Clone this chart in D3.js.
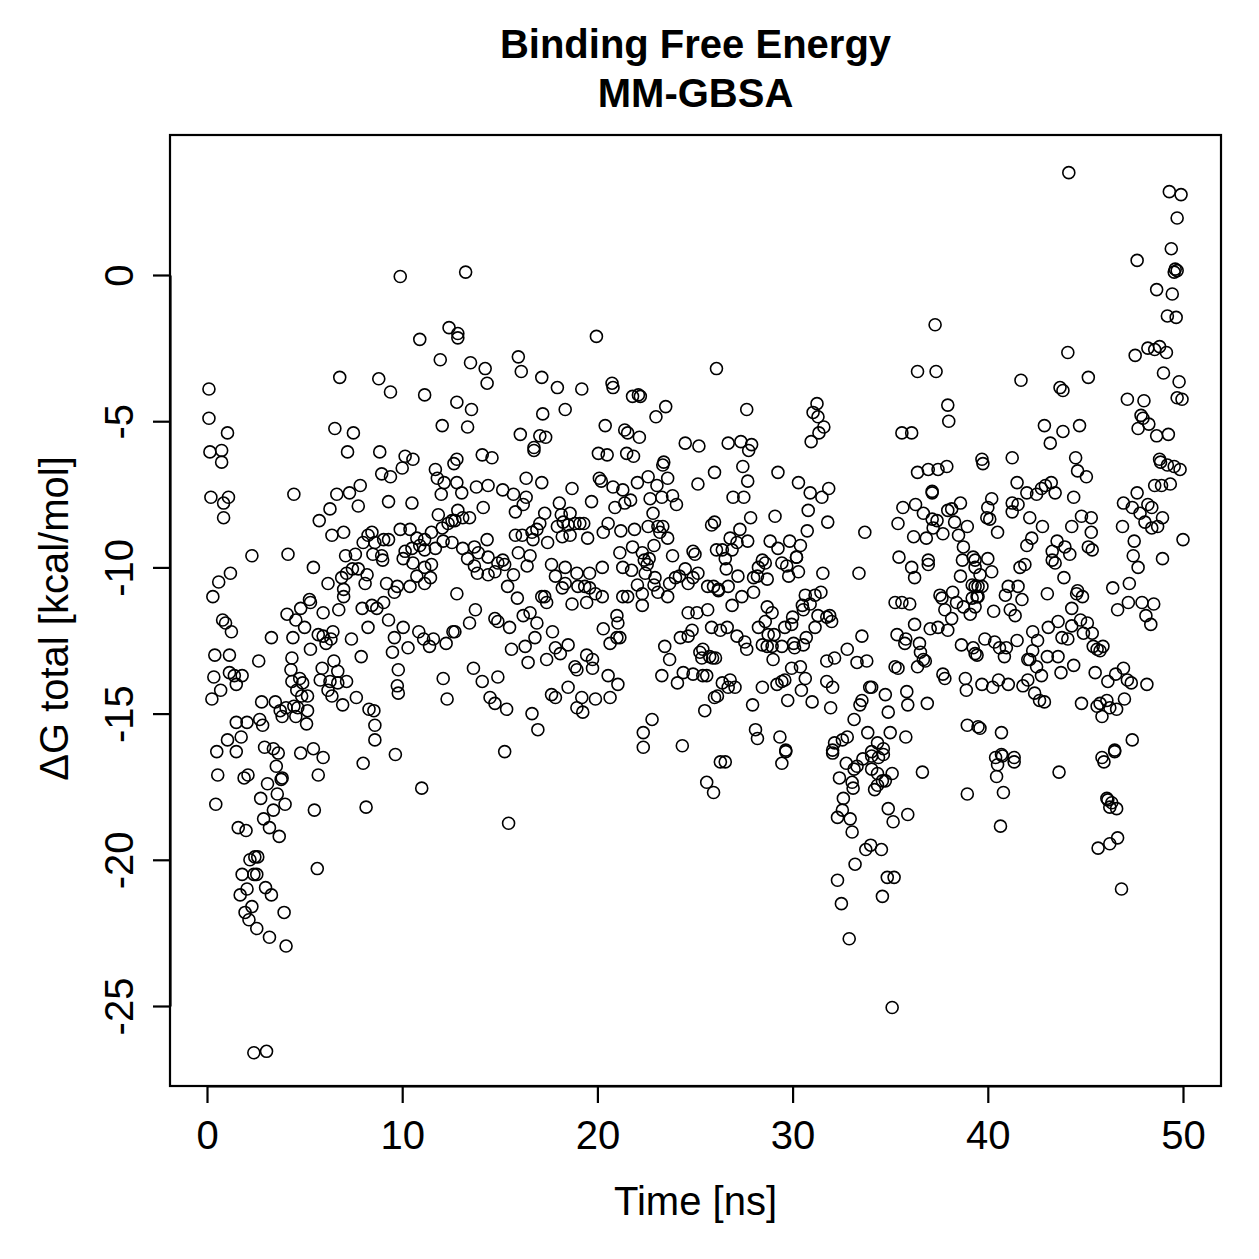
<!DOCTYPE html>
<meta charset="utf-8">
<style>
    body { margin: 0; background: #fff; }
    text { font-family: "Liberation Sans", Arial, Helvetica, sans-serif; fill: #000; }
</style>
<svg width="1259" height="1259"></svg>
<script src="https://d3js.org/d3.v7.min.js"></script>
<script>
    // [time ns, dG kcal/mol], in four time windows
    var seg0to13 = [
        [0.1,-3.9],[0.1,-4.9],[0.15,-6.05],[0.2,-7.6],[0.3,-11.0],[0.4,-13.0],[0.35,-13.75],[0.25,-14.5],[0.5,-16.3],[0.45,-18.1],
        [0.55,-17.1],[0.6,-10.5],[0.75,-6.0],[0.75,-6.4],[0.85,-8.3],[0.8,-11.8],[0.95,-11.9],[0.7,-14.2],[1.1,-7.6],[1.05,-5.4],
        [1.2,-10.2],[1.05,-15.9],[1.25,-12.2],[1.15,-13.0],[1.15,-13.6],[1.4,-13.7],[1.5,-14.0],[1.5,-15.3],[1.5,-16.3],[1.6,-18.9],
        [1.7,-21.2],[1.8,-20.5],[2.0,-19.0],[1.9,-17.2],[1.75,-15.8],[1.8,-13.7],[1.95,-21.8],[0.85,-7.8],[2.1,-17.1],
        [2.75,-17.9],[3.1,-17.4],[3.55,-16.8],[3.6,-17.75],[3.85,-17.2],[3.8,-17.25],[3.4,-18.3],[4.0,-18.1],[2.9,-18.6],[3.2,-18.9],
        [3.7,-19.2],[2.45,-19.9],[2.6,-19.9],[2.2,-20.0],[2.4,-20.5],[2.55,-20.5],[2.05,-21.0],[3.0,-20.95],[3.3,-21.2],[2.3,-21.6],
        [2.15,-22.05],[2.55,-22.35],[3.2,-22.65],[3.95,-21.8],[4.05,-22.95],[5.65,-20.3],[5.5,-18.3],[5.7,-17.1],[8.15,-18.2],[8.0,-16.7],
        [11.0,-17.55],[9.65,-16.4],[2.4,-26.6],[3.05,-26.55],
        [9.9,-0.05],[12.4,-1.8],[12.85,-2.0],[12.85,-2.15],[10.9,-2.2],[11.95,-2.9],[6.8,-3.5],[8.8,-3.55],[9.4,-4.0],[11.15,-4.1],
        [12.8,-4.35],[12.05,-5.15],[6.55,-5.25],[7.5,-5.4],[7.2,-6.05],[8.85,-6.05],
        [2.05,-15.3],[2.7,-15.2],[2.85,-15.4],[2.95,-16.15],[3.4,-16.2],[3.65,-16.35],[3.85,-15.1],[4.55,-15.1],[5.1,-15.35],[4.8,-16.35],
        [5.45,-16.2],[5.95,-16.5],[4.45,-7.5],[2.3,-9.6],[4.15,-9.55],[5.45,-10.0],[3.3,-12.4],[4.4,-12.4],[2.65,-13.2],
        [2.8,-14.6],[3.5,-14.6],[3.75,-14.9],[4.05,-14.8],[4.45,-14.75],[4.65,-14.8],[5.15,-14.9],[5.15,-14.4],[4.85,-14.4],[4.6,-14.2],
        [4.75,-13.8],[4.9,-13.95],[4.35,-13.9],[4.3,-13.5],[4.35,-13.1],
        [8.6,-15.4],[8.6,-15.9],[8.3,-14.85],[8.55,-14.9],[7.65,-14.45],[6.95,-14.7],[7.9,-13.05],[9.8,-13.5],[9.75,-14.05],[9.8,-14.3],
        [12.1,-13.8],[12.3,-14.5],
        [5.9,-13.45],[6.5,-13.2],[6.7,-13.55],[7.15,-13.9],[6.7,-13.95],[6.3,-13.9],[5.8,-13.85],[6.2,-14.2],[6.4,-14.4],[6.1,-12.6],
        [6.35,-12.45],[5.3,-12.8],[6.45,-12.2],[5.7,-12.3],[5.95,-12.35],[5.0,-12.05],[4.55,-11.8],[4.1,-11.6],[4.8,-11.4],[5.3,-11.2],
        [5.25,-11.1],[5.95,-11.55],[6.75,-11.45],[7.0,-11.0],[7.4,-12.45],
        [8.25,-12.05],[7.95,-11.4],[8.45,-11.3],[8.7,-11.4],[9.05,-11.2],[9.3,-11.8],[9.6,-12.4],[9.5,-12.9],[10.05,-12.05],[10.3,-12.75],
        [10.85,-12.2],[11.1,-12.45],[11.4,-12.7],[11.6,-12.45],[12.25,-12.6],[12.6,-12.2],
        [5.75,-8.4],[6.3,-8.0],[6.65,-7.5],[7.3,-7.45],[7.85,-7.2],[7.75,-7.9],[6.4,-8.9],[7.0,-8.8],[7.1,-9.6],[7.6,-9.55],
        [6.2,-10.55],[6.9,-10.35],[7.15,-10.2],[7.45,-10.05],[7.75,-10.05],[8.2,-10.25],[8.1,-10.55],[7.0,-10.75],[8.25,-8.9],[8.45,-8.8],
        [8.0,-9.15],[8.5,-9.55],[8.6,-9.15],[8.95,-9.6],[9.05,-9.05],[9.3,-9.05],[9.0,-9.75],[9.2,-10.55],[9.75,-10.65],[9.6,-10.85],
        [8.95,-6.8],[9.4,-6.9],[10.0,-6.6],[10.15,-6.2],[10.55,-6.3],[9.3,-7.75],[10.5,-7.8],[9.9,-8.7],[10.4,-8.7],[10.75,-9.0],
        [10.15,-9.45],[10.05,-9.7],[10.5,-9.35],[10.9,-9.25],[11.15,-9.05],[11.5,-8.8],[11.7,-6.65],[11.8,-6.95],[12.15,-7.1],[12.0,-7.5],
        [12.65,-6.45],[12.8,-7.1],[11.85,-8.2],[12.55,-8.4],[12.35,-8.5],[12.05,-8.65],[12.1,-9.1],[12.55,-9.15],[11.15,-9.4],[11.7,-9.35],
        [10.55,-9.85],[10.75,-10.3],[11.15,-10.0],[11.5,-9.9],[11.45,-10.35],[11.15,-10.55],[10.4,-10.65]
    ];
    var seg13to26 = [
        [13.25,0.1],[19.95,-2.1],[13.5,-3.0],[14.25,-3.2],[14.35,-3.7],[15.95,-2.8],[16.1,-3.3],[17.15,-3.5],[17.95,-3.85],[19.2,-3.9],
        [20.75,-3.7],[20.8,-3.85],[21.8,-4.15],[22.1,-4.1],[22.2,-4.15],[23.5,-4.5],[23.0,-4.85],[26.1,-3.2],[13.55,-4.6],[13.35,-5.2],
        [17.2,-4.75],[18.35,-4.6],[16.05,-5.45],[17.05,-5.5],[17.35,-5.55],[16.75,-5.9],[20.4,-5.15],[21.4,-5.3],[21.55,-5.4],[22.15,-5.55],
        [24.5,-5.75],[25.2,-5.85],[20.05,-6.1],[20.5,-6.15],[21.5,-6.1],[21.85,-6.2],[23.4,-6.4],[14.1,-6.15],[14.6,-6.25],[12.8,-6.3],
        [16.75,-6.0],[23.35,-6.5],[26.0,-6.75],[25.15,-7.15],[13.8,-7.25],[14.4,-7.2],[13.05,-7.45],
        [15.15,-7.35],[15.7,-7.5],[16.35,-6.95],[17.15,-7.1],[16.35,-7.6],[16.2,-7.85],[15.8,-8.1],[14.15,-7.95],
        [18.7,-7.3],[19.7,-7.75],[20.1,-6.95],[20.2,-7.05],[20.8,-7.25],[21.3,-7.35],[20.9,-7.95],[21.4,-7.8],[21.7,-7.7],[22.05,-7.1],
        [22.6,-6.9],[23.05,-7.2],[23.6,-6.95],[22.7,-7.65],[23.3,-7.6],[23.85,-7.55],[24.05,-7.85],[22.85,-8.15],
        [12.85,-8.05],[13.1,-8.3],[13.45,-8.3],[12.7,-8.4],
        [17.3,-8.15],[18.05,-7.8],[18.15,-8.2],[18.6,-8.15],[17.05,-8.5],[16.9,-8.7],[16.65,-8.8],[15.8,-8.9],[16.15,-8.9],[16.7,-9.05],
        [17.45,-9.15],[17.95,-8.6],[18.25,-8.45],[18.5,-8.55],[18.85,-8.5],[19.1,-8.5],[19.3,-8.5],[18.2,-8.95],[18.6,-8.9],[19.5,-9.0],
        [20.3,-8.8],[20.55,-8.5],[21.2,-8.75],[21.9,-8.7],[22.6,-8.6],[23.1,-8.6],[23.35,-8.6],[23.2,-8.8],[23.6,-9.0],[22.9,-9.25],
        [21.8,-9.3],[21.15,-9.5],[21.3,-10.0],[21.75,-10.1],[22.3,-9.5],[22.4,-9.75],[22.55,-9.9],[22.65,-9.7],[22.95,-10.35],[22.9,-10.6],
        [22.45,-10.2],[22.05,-10.6],[22.3,-10.9],[21.55,-11.0],[21.3,-11.0],[22.3,-11.3],[23.1,-10.85],[23.6,-11.0],[23.7,-10.55],[24.0,-10.35],
        [24.2,-10.3],[24.5,-10.05],[24.65,-10.55],[24.9,-10.35],[25.15,-10.2],[23.85,-9.6],[24.9,-9.45],[25.0,-9.55],[25.65,-10.65],[25.95,-10.65],
        [26.2,-10.8],[26.1,-9.4],[25.85,-8.55],[26.0,-8.45],
        [13.1,-9.35],[13.7,-9.3],[14.35,-9.05],[13.9,-9.5],[13.35,-9.7],[13.7,-9.95],[14.4,-9.65],[14.9,-9.85],[15.15,-9.75],[15.25,-9.9],
        [14.75,-10.15],[14.4,-10.25],[13.85,-10.2],[15.7,-10.25],[15.4,-10.65],[15.95,-9.5],[16.55,-9.6],[16.4,-9.95],[15.9,-11.05],[17.3,-11.0],
        [17.65,-9.9],[18.35,-10.0],[18.95,-10.2],[19.6,-10.2],[20.25,-10.0],[17.85,-10.3],[18.35,-10.55],[18.2,-10.7],[19.0,-10.65],[19.35,-10.65],
        [19.6,-10.7],[19.9,-10.9],[20.25,-11.0],[18.7,-11.25],[19.45,-11.2],[17.4,-11.2],[17.15,-11.0],[12.8,-10.9],[12.7,-12.2],[13.75,-11.45],
        [13.45,-11.9],[14.75,-11.75],[14.9,-11.85],[15.5,-12.05],[16.2,-11.65],[16.55,-11.55],[16.9,-11.9],[15.6,-12.8],[16.3,-12.7],[16.8,-12.4],
        [16.45,-13.25],[17.4,-13.15],[17.7,-12.2],[17.85,-12.75],[18.1,-12.95],[18.5,-12.65],[19.45,-13.0],[19.75,-13.15],[19.75,-13.45],[18.85,-13.4],
        [18.95,-13.5],[20.55,-13.7],[21.05,-14.0],[20.65,-14.45],[19.9,-14.5],[19.2,-14.45],[19.25,-14.95],[18.95,-14.8],[18.5,-14.1],[17.65,-14.35],
        [17.85,-14.45],[13.65,-13.45],[14.1,-13.9],[14.9,-13.75],[14.5,-14.45],[14.75,-14.65],[15.35,-14.85],[16.65,-15.0],[16.95,-15.55],[15.25,-16.3],
        [20.3,-12.1],[20.65,-12.6],[21.0,-12.4],[21.15,-12.4],[21.0,-11.65],[21.05,-11.9],[22.8,-15.2],[22.35,-15.65],[22.35,-16.15],[24.35,-16.1],
        [23.45,-12.7],[23.7,-13.15],[23.3,-13.7],[24.1,-13.95],[24.25,-12.4],[24.65,-12.35],[24.85,-12.15],[24.65,-11.55],[25.1,-11.55],[25.65,-11.45],
        [25.85,-12.05],[25.4,-12.8],[25.35,-13.1],[25.75,-13.05],[25.9,-13.1],[25.25,-12.9],[24.4,-13.6],[24.9,-13.65],[25.4,-13.7],[25.6,-13.7],
        [26.0,-14.45],[25.5,-14.9],[15.45,-18.75],[25.6,-17.35],[25.95,-17.7],[26.3,-16.65]
    ];
    var seg26to39 = [
        [37.3,-1.7],[36.4,-3.3],[37.35,-3.3],[27.65,-4.6],[26.7,-5.75],[27.35,-5.7],[27.9,-5.8],[27.75,-6.0],[31.25,-4.4],[31.05,-4.7],
        [31.3,-4.85],[31.6,-5.2],[31.35,-5.4],[30.95,-5.7],[37.95,-4.45],[38.0,-5.0],[35.6,-5.4],[36.1,-5.4],
        [27.45,-6.55],[27.7,-7.05],[29.25,-6.75],[30.3,-7.1],[30.9,-7.45],[31.5,-7.6],[31.85,-7.3],[26.95,-7.6],[27.5,-7.6],[30.8,-8.05],
        [31.8,-8.45],[29.1,-8.25],[27.85,-8.3],[30.75,-8.75],[27.3,-8.7],[26.8,-9.0],[27.15,-9.15],[27.7,-9.1],[28.85,-9.1],[29.25,-9.35],
        [29.85,-9.1],[30.4,-9.25],[30.2,-9.65],[26.4,-9.4],[26.55,-9.7],[26.9,-9.4],[26.6,-10.05],[28.45,-9.75],[28.25,-10.0],[28.6,-9.85],
        [28.2,-10.3],[28.7,-10.4],[28.0,-10.35],[29.45,-9.85],[29.7,-9.95],[29.8,-10.3],[30.2,-9.65],[30.3,-10.15],[31.55,-10.2],
        [27.2,-10.3],[26.7,-10.65],[26.2,-10.75],[27.4,-11.0],[28.0,-10.85],[26.9,-11.3],[26.3,-12.15],[26.65,-12.05],[27.15,-12.35],[27.55,-12.55],
        [27.65,-12.8],[26.05,-13.1],[28.7,-11.35],[28.95,-11.55],[28.6,-11.85],[28.25,-12.05],
        [30.65,-10.95],[31.15,-10.95],[31.45,-10.85],[30.5,-11.3],[30.9,-11.25],[30.55,-11.45],[31.3,-11.65],[31.75,-11.7],[31.9,-11.65],[32.0,-11.85],
        [31.15,-12.05],[30.0,-11.7],[29.95,-11.95],[29.6,-12.05],
        [28.45,-12.65],[28.7,-12.7],[28.95,-12.7],[29.05,-12.3],[28.75,-12.3],[29.45,-12.7],[30.05,-12.6],[30.55,-12.65],[30.7,-12.4],[30.1,-12.75],
        [29.0,-13.15],[29.95,-13.45],[30.4,-13.4],[30.65,-13.8],[30.45,-14.2],[29.75,-14.55],[29.2,-14.0],[29.45,-13.9],[29.6,-13.85],[28.45,-14.1],
        [27.95,-14.7],[31.0,-14.6],[31.95,-14.8],[31.75,-13.9],[32.05,-14.1],[31.75,-13.2],[32.15,-13.1],[32.8,-12.8],[33.3,-13.25],[33.8,-13.2],
        [33.55,-12.35],[26.4,-13.95],[26.8,-13.85],[27.05,-14.1],[26.7,-14.1],[26.15,-14.4],[33.7,-8.8],[33.4,-10.2],
        [33.95,-14.1],[34.05,-14.1],[33.55,-14.55],[33.45,-14.7],[33.15,-15.2],[33.85,-15.65],[34.75,-14.35],[34.9,-14.95],[35.85,-14.25],[35.9,-14.7],
        [36.9,-14.65],[35.8,-15.8],[28.1,-15.55],[28.2,-15.85],[29.35,-15.8],[29.65,-16.25],
        [32.15,-16.0],[32.55,-15.9],[32.8,-15.8],[32.05,-16.25],[34.35,-16.0],[34.65,-16.2],[35.0,-15.65],[34.05,-16.3],
        [36.4,-6.75],[36.95,-6.65],[37.45,-6.65],[37.9,-6.55],[37.15,-7.4],[37.15,-7.45],
        [35.65,-7.95],[36.3,-7.85],[36.7,-8.15],[35.4,-8.5],[37.15,-8.35],[37.4,-8.4],[37.95,-8.05],[38.15,-8.0],[38.6,-7.8],[38.3,-8.45],
        [38.95,-8.6],[37.2,-8.65],[37.7,-8.85],[36.85,-9.0],[36.2,-8.95],[38.5,-8.9],
        [38.75,-9.3],[38.7,-9.75],[39.25,-9.65],[39.35,-10.0],[38.6,-10.3],[39.2,-10.6],[39.5,-10.65],[36.95,-9.75],[36.95,-9.9],[36.1,-10.0],
        [36.25,-10.35],[35.45,-9.65],
        [37.55,-10.95],[37.65,-11.05],[38.2,-10.85],[38.4,-11.2],[38.75,-11.35],[37.8,-11.45],[38.15,-11.75],[37.95,-12.15],[37.45,-12.05],[37.05,-12.1],
        [39.1,-11.6],[39.2,-11.05],[39.45,-11.0],
        [35.25,-11.2],[35.6,-11.2],[36.0,-11.25],[36.25,-11.95],[35.35,-12.3],[35.8,-12.45],[35.75,-12.6],[36.5,-12.6],[36.55,-12.9],[36.7,-13.15],
        [36.8,-13.2],[36.4,-13.4],[35.25,-13.4],[35.4,-13.45],[37.7,-13.65],[37.8,-13.8],[38.65,-12.65],[39.25,-12.75],[39.35,-12.95],[38.85,-13.8],
        [38.9,-14.2],[38.95,-15.4],[39.5,-15.45],
        [26.55,-16.65],[29.45,-16.7],[29.65,-16.3],
        [32.05,-16.35],[32.75,-16.7],[33.15,-16.9],[33.3,-16.8],[33.6,-16.55],[34.05,-16.45],[34.4,-16.5],[34.65,-16.4],[34.05,-16.9],[34.35,-17.05],
        [34.6,-17.3],[35.1,-17.05],[34.75,-17.3],[32.4,-17.2],[33.05,-17.35],[33.1,-17.55],[34.2,-17.6],[34.35,-17.45],[32.6,-17.9],[32.55,-18.3],
        [32.3,-18.55],[32.95,-18.6],[33.05,-19.05],[34.9,-18.25],[35.15,-18.7],[35.9,-18.45],[36.65,-17.0],[38.95,-17.75],
        [33.75,-19.65],[34.0,-19.5],[34.55,-19.65],[33.2,-20.15],[32.3,-20.7],[34.85,-20.6],[35.2,-20.6],[34.6,-21.25],[32.5,-21.5],[32.9,-22.7],
        [35.1,-25.05]
    ];
    var seg39to50 = [
        [44.15,3.5],[49.3,2.85],[49.9,2.75],[49.7,1.95],[49.4,0.9],[47.65,0.5],[49.6,0.2],[49.7,0.15],[49.55,0.1],[48.65,-0.5],
        [49.45,-0.65],[49.2,-1.4],[49.65,-1.45],[44.1,-2.65],[47.55,-2.75],[48.2,-2.5],[48.55,-2.55],[48.8,-2.45],[49.15,-2.65],[41.7,-3.6],
        [43.7,-3.85],[43.85,-3.95],[45.15,-3.5],[49.0,-3.35],[49.8,-3.65],[47.15,-4.25],[48.0,-4.3],[49.7,-4.2],[49.95,-4.25],
        [47.85,-4.8],[47.95,-4.9],[48.25,-5.1],[47.7,-5.25],[48.65,-5.5],[49.25,-5.45],[42.9,-5.15],[43.85,-5.35],[44.7,-5.15],[43.2,-5.75],
        [39.7,-6.3],[41.25,-6.25],[44.5,-6.25],[48.8,-6.3],
        [39.75,-6.45],[44.6,-6.7],[45.05,-6.9],[48.85,-6.4],[49.2,-6.5],[49.55,-6.55],[49.85,-6.65],[48.55,-7.2],[48.9,-7.2],[49.35,-7.15],
        [41.5,-7.1],[42.0,-7.45],[42.5,-7.5],[42.75,-7.3],[43.25,-7.1],[42.95,-7.2],[43.45,-7.45],[44.4,-7.6],
        [40.2,-7.65],[40.0,-7.95],[41.25,-7.8],[41.55,-7.85],[41.25,-8.1],[39.95,-8.3],[40.1,-8.35],[40.5,-8.8],[42.15,-8.3],[42.8,-8.6],
        [44.8,-8.25],[45.3,-8.3],[44.3,-8.6],[45.3,-8.8],[45.15,-9.3],[45.35,-9.4],
        [47.65,-7.45],[46.95,-7.8],[47.4,-7.95],[47.8,-8.15],[48.2,-7.85],[48.4,-7.95],[48.05,-8.45],[48.4,-8.65],[48.7,-8.6],[48.95,-8.3],
        [46.9,-8.6],[50.0,-9.05],[47.5,-9.1],[47.45,-9.6],[47.7,-10.0],[48.95,-9.7],
        [43.55,-9.1],[43.95,-9.3],[43.3,-9.45],[44.2,-9.55],[43.3,-9.75],[43.45,-9.85],[42.25,-9.0],[42.0,-9.25],[41.9,-9.9],[41.65,-10.0],
        [39.35,-9.75],[40.0,-9.7],[39.6,-10.25],[40.2,-10.15],[39.35,-10.65],[39.7,-10.65],[39.5,-11.0],[39.35,-11.35],
        [43.9,-10.35],[43.05,-10.9],[44.6,-10.8],[44.55,-10.9],[44.85,-11.0],[44.3,-11.4],
        [41.05,-10.65],[41.55,-10.65],[40.9,-10.95],[41.75,-11.1],[41.15,-11.45],[40.3,-11.5],[41.4,-11.65],
        [46.4,-10.7],[47.25,-10.55],[47.2,-11.2],[46.65,-11.45],[47.9,-11.2],[48.5,-11.25],[48.1,-11.65],[48.35,-11.95],
        [43.6,-11.85],[43.1,-12.05],[42.3,-12.2],[42.55,-12.5],[42.3,-12.85],[42.05,-13.15],[43.8,-12.4],[44.1,-12.45],[44.3,-12.0],[44.75,-11.8],
        [45.1,-11.9],[44.9,-12.25],[45.35,-12.25],[45.4,-12.7],[45.6,-12.8],[45.75,-12.85],[45.9,-12.7],
        [39.85,-12.45],[40.35,-12.55],[40.6,-12.75],[40.95,-12.75],[40.85,-13.05],[41.5,-12.5],[39.45,-13.0],
        [42.15,-13.15],[42.5,-13.4],[42.75,-13.7],[43.05,-13.05],[43.6,-13.05],[43.75,-13.6],[44.4,-13.35],
        [45.5,-13.6],[46.15,-13.9],[46.55,-13.65],[46.95,-13.45],[47.15,-13.85],[47.35,-13.95],[48.15,-14.0],
        [39.7,-14.0],[40.25,-14.1],[40.55,-13.85],[41.05,-14.0],[41.8,-14.05],[42.05,-13.85],[42.4,-14.3],[42.65,-14.55],[42.9,-14.6],
        [44.8,-14.65],[45.6,-14.75],[45.75,-14.65],[46.1,-14.55],[46.25,-14.8],[45.85,-15.1],[46.6,-14.85],[47.0,-14.5],
        [39.6,-15.5],[40.7,-15.65],[47.4,-15.9],[46.5,-16.25],[45.85,-16.5],[40.7,-16.4],[41.35,-16.5],[40.4,-16.5],
        [40.75,-16.45],[40.5,-16.75],[41.35,-16.65],[40.45,-17.15],[40.8,-17.7],[40.65,-18.85],[43.65,-17.0],
        [45.95,-16.65],[46.5,-16.3],[46.1,-17.9],[46.15,-17.95],[46.35,-18.05],[46.25,-18.2],[46.6,-18.25],[46.65,-19.25],[46.25,-19.45],
        [45.65,-19.6],[46.85,-21.0]
    ];

    var xTicks = [0, 10, 20, 30, 40, 50];
    var yTicks = [0, -5, -10, -15, -20, -25];
    var titleLines = ["Binding Free Energy", "MM-GBSA"];

    var points = seg0to13.concat(seg13to26, seg26to39, seg39to50);

    var svg = d3.select("svg"),
        box = {left: 170, right: 1221, top: 135, bottom: 1086};

    var x = d3.scaleLinear().domain([0, 50]).range([207, 1183]);
    var y = d3.scaleLinear().domain([0, -25]).range([275, 1006]);

    svg.append("rect")
        .attr("width", 1259).attr("height", 1259).attr("fill", "#fff");

    svg.append("g")
        .selectAll("circle")
        .data(points)
        .join("circle")
        .attr("cx", function (d) { return x(d[0]); })
        .attr("cy", function (d) { return y(d[1]); })
        .attr("r", 6)
        .attr("fill", "none")
        .attr("stroke", "#000")
        .attr("stroke-width", 1.6);

    svg.append("rect")
        .attr("x", box.left).attr("y", box.top)
        .attr("width", box.right - box.left).attr("height", box.bottom - box.top)
        .attr("fill", "none").attr("stroke", "#000").attr("stroke-width", 2.2);

    var xAxis = svg.append("g")
        .attr("transform", "translate(0," + box.bottom + ")")
        .call(d3.axisBottom(x).tickValues(xTicks).tickSize(17).tickSizeOuter(0).tickPadding(18));
    var yAxis = svg.append("g")
        .attr("transform", "translate(" + box.left + ",0)")
        .call(d3.axisLeft(y).tickValues(yTicks).tickSize(17).tickSizeOuter(0).tickFormat(d3.format("d")));

    [xAxis, yAxis].forEach(function (g) {
        g.select(".domain").attr("stroke-width", 2.2);
        g.selectAll(".tick line").attr("stroke-width", 2.2);
        g.selectAll("text").attr("font-size", 40).attr("font-family", null).attr("fill", "#000");
    });
    // R draws y labels parallel to the axis
    yAxis.selectAll(".tick text")
        .attr("x", null).attr("dy", null)
        .attr("text-anchor", "middle")
        .attr("transform", "translate(-37,0) rotate(-90)")
        .text(function (d) { return d === 0 ? "0" : "-" + Math.abs(d); });

    svg.append("g").selectAll("text")
        .data(titleLines)
        .join("text")
        .attr("x", (box.left + box.right) / 2)
        .attr("y", function (d, i) { return 58 + i * 49; })
        .attr("text-anchor", "middle")
        .attr("font-weight", "bold")
        .attr("font-size", 40)
        .text(function (d) { return d; });

    svg.append("text")
        .attr("x", (box.left + box.right) / 2).attr("y", 1215)
        .attr("text-anchor", "middle").attr("font-size", 40)
        .text("Time [ns]");

    svg.append("text")
        .attr("transform", "translate(68," + ((box.top + box.bottom) / 2 + 8) + ") rotate(-90)")
        .attr("text-anchor", "middle").attr("font-size", 40)
        .text("ΔG total [kcal/mol]");
</script>
